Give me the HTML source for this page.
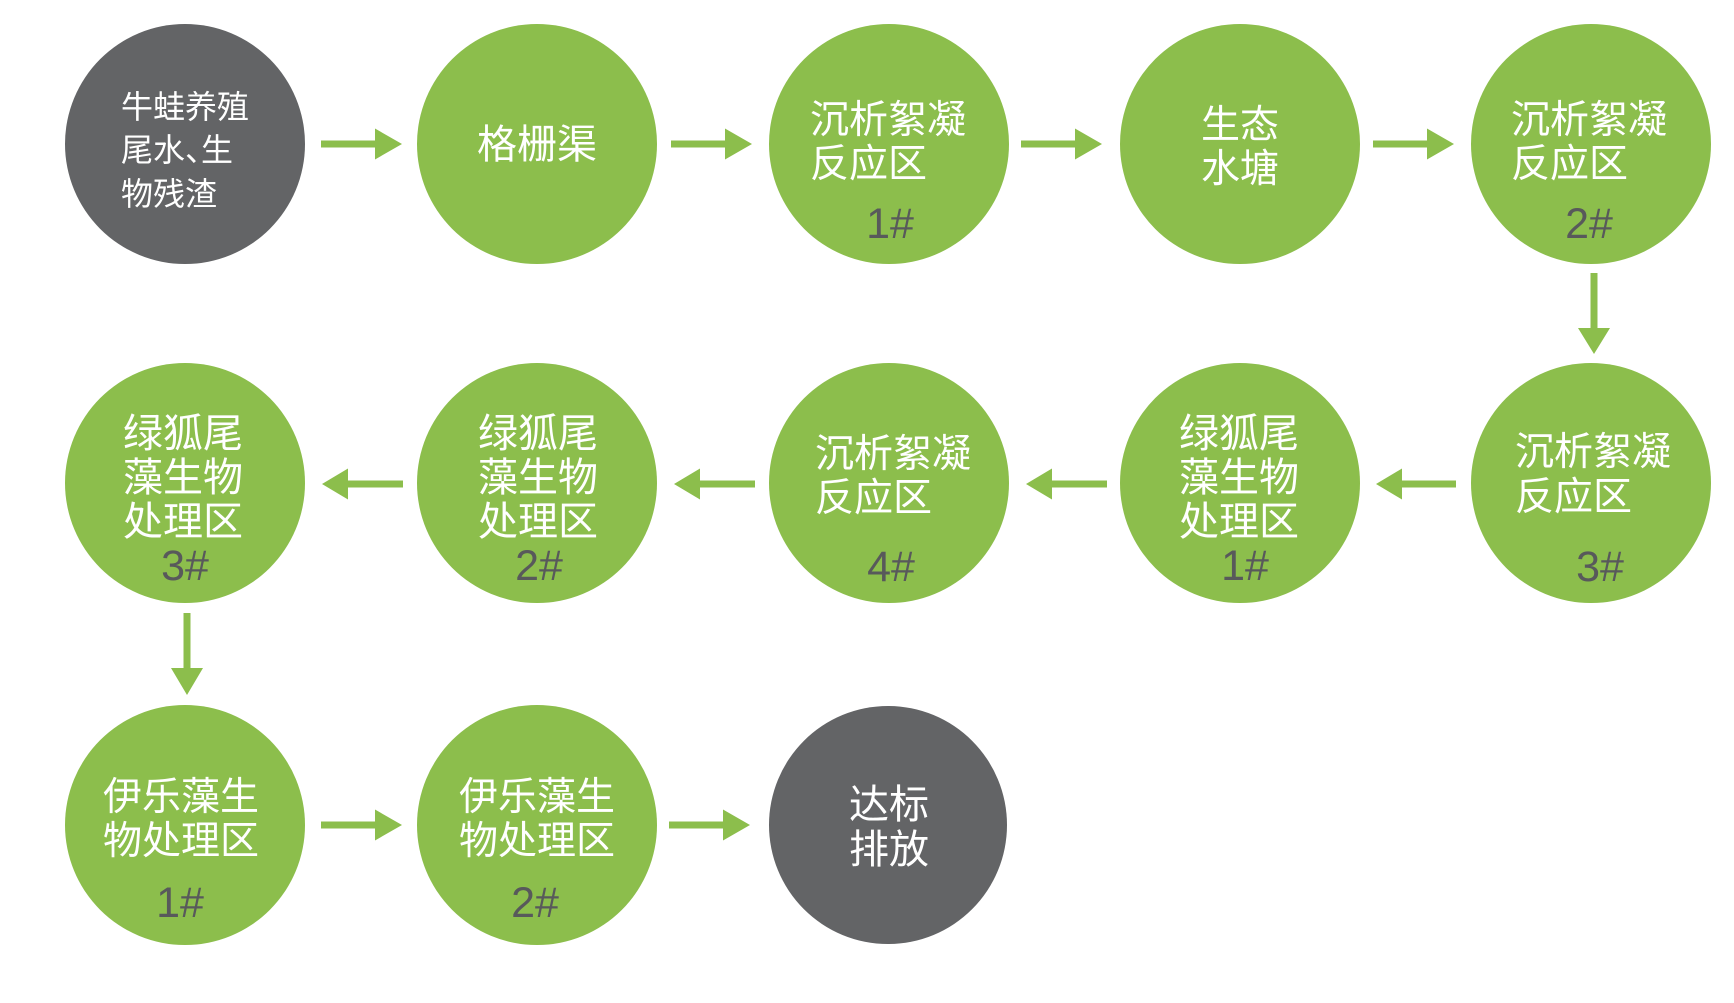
<!DOCTYPE html>
<html>
<head>
<meta charset="utf-8">
<style>
  html, body { margin: 0; padding: 0; background: #ffffff; }
  body { width: 1734px; height: 1003px; overflow: hidden; }
  svg { display: block; }
  .cjk { font-family: "Liberation Sans", "Noto Sans CJK SC", "WenQuanYi Zen Hei", sans-serif; fill: #ffffff; }
  .num { font-family: "Liberation Sans", sans-serif; fill: #58595b; font-size: 43px; }
</style>
</head>
<body>
<svg width="1734" height="1003" viewBox="0 0 1734 1003" xmlns="http://www.w3.org/2000/svg">
  <rect width="1734" height="1003" fill="#ffffff"/>

  <!-- Row 1 circles -->
  <circle cx="185" cy="144" r="120" fill="#636466"/>
  <circle cx="537" cy="144" r="120" fill="#8cbe4c"/>
  <circle cx="889" cy="144" r="120" fill="#8cbe4c"/>
  <circle cx="1240" cy="144" r="120" fill="#8cbe4c"/>
  <circle cx="1591" cy="144" r="120" fill="#8cbe4c"/>

  <!-- Row 2 circles -->
  <circle cx="185" cy="483" r="120" fill="#8cbe4c"/>
  <circle cx="537" cy="483" r="120" fill="#8cbe4c"/>
  <circle cx="889" cy="483" r="120" fill="#8cbe4c"/>
  <circle cx="1240" cy="483" r="120" fill="#8cbe4c"/>
  <circle cx="1591" cy="483" r="120" fill="#8cbe4c"/>

  <!-- Row 3 circles -->
  <circle cx="185" cy="825" r="120" fill="#8cbe4c"/>
  <circle cx="537" cy="825" r="120" fill="#8cbe4c"/>
  <circle cx="888" cy="825" r="119" fill="#636466"/>

  <g fill="#8cbe4c">
    <!-- Row 1 right arrows -->
    <polygon points="321,140.5 375,140.5 375,128.5 402,144 375,159.5 375,147.5 321,147.5"/>
    <polygon points="671,140.5 725,140.5 725,128.5 752,144 725,159.5 725,147.5 671,147.5"/>
    <polygon points="1021,140.5 1075,140.5 1075,128.5 1102,144 1075,159.5 1075,147.5 1021,147.5"/>
    <polygon points="1373,140.5 1427,140.5 1427,128.5 1454,144 1427,159.5 1427,147.5 1373,147.5"/>

    <!-- Down arrow col5 -->
    <polygon points="1590.5,273 1597.5,273 1597.5,328 1610,328 1594,354 1578,328 1590.5,328"/>

    <!-- Row 2 left arrows -->
    <polygon points="322,484 348,468.5 348,480.5 403,480.5 403,487.5 348,487.5 348,499.5"/>
    <polygon points="674,484 700,468.5 700,480.5 755,480.5 755,487.5 700,487.5 700,499.5"/>
    <polygon points="1026,484 1052,468.5 1052,480.5 1107,480.5 1107,487.5 1052,487.5 1052,499.5"/>
    <polygon points="1376,484 1402,468.5 1402,480.5 1456,480.5 1456,487.5 1402,487.5 1402,499.5"/>

    <!-- Down arrow col1 -->
    <polygon points="183.5,613 190.5,613 190.5,668 203,668 187,695 171,668 183.5,668"/>

    <!-- Row 3 right arrows -->
    <polygon points="321,821.5 375,821.5 375,809.5 402,825 375,840.5 375,828.5 321,828.5"/>
    <polygon points="669,821.5 723,821.5 723,809.5 750,825 723,840.5 723,828.5 669,828.5"/>
  </g>

  <!-- Row 1 text -->
  <g class="cjk" font-size="32">
    <text x="121" y="118">牛蛙养殖</text>
    <text x="121" y="161">尾水、</text>
    <text x="201" y="161">生</text>
    <text x="121" y="205">物残渣</text>
  </g>
  <text class="cjk" font-size="40" x="537" y="158" text-anchor="middle">格栅渠</text>

  <g class="cjk" font-size="39">
    <text x="810" y="133">沉析絮凝</text>
    <text x="810" y="177">反应区</text>
    <text x="1240" y="138" text-anchor="middle">生态</text>
    <text x="1240" y="182" text-anchor="middle">水塘</text>
    <text x="1511" y="133">沉析絮凝</text>
    <text x="1511" y="177">反应区</text>
  </g>
  <text class="num" x="890" y="238" text-anchor="middle">1#</text>
  <text class="num" x="1589" y="238" text-anchor="middle">2#</text>

  <!-- Row 2 text -->
  <g class="cjk" font-size="40">
    <text x="183" y="447" text-anchor="middle">绿狐尾</text>
    <text x="183" y="491" text-anchor="middle">藻生物</text>
    <text x="183" y="535" text-anchor="middle">处理区</text>

    <text x="538" y="447" text-anchor="middle">绿狐尾</text>
    <text x="538" y="491" text-anchor="middle">藻生物</text>
    <text x="538" y="535" text-anchor="middle">处理区</text>

    <text x="1239" y="447" text-anchor="middle">绿狐尾</text>
    <text x="1239" y="491" text-anchor="middle">藻生物</text>
    <text x="1239" y="535" text-anchor="middle">处理区</text>
  </g>
  <g class="cjk" font-size="39">
    <text x="815" y="467">沉析絮凝</text>
    <text x="815" y="511">反应区</text>
    <text x="1515" y="465">沉析絮凝</text>
    <text x="1515" y="510">反应区</text>
  </g>
  <text class="num" x="185" y="580" text-anchor="middle">3#</text>
  <text class="num" x="539" y="580" text-anchor="middle">2#</text>
  <text class="num" x="891" y="581" text-anchor="middle">4#</text>
  <text class="num" x="1245" y="580" text-anchor="middle">1#</text>
  <text class="num" x="1600" y="581" text-anchor="middle">3#</text>

  <!-- Row 3 text -->
  <g class="cjk" font-size="39">
    <text x="181" y="810" text-anchor="middle">伊乐藻生</text>
    <text x="181" y="854" text-anchor="middle">物处理区</text>
    <text x="537" y="810" text-anchor="middle">伊乐藻生</text>
    <text x="537" y="854" text-anchor="middle">物处理区</text>
    <text x="889" y="818" text-anchor="middle" font-size="40">达标</text>
    <text x="889" y="863" text-anchor="middle" font-size="40">排放</text>
  </g>
  <text class="num" x="180" y="917" text-anchor="middle">1#</text>
  <text class="num" x="535" y="917" text-anchor="middle">2#</text>
</svg>
</body>
</html>
